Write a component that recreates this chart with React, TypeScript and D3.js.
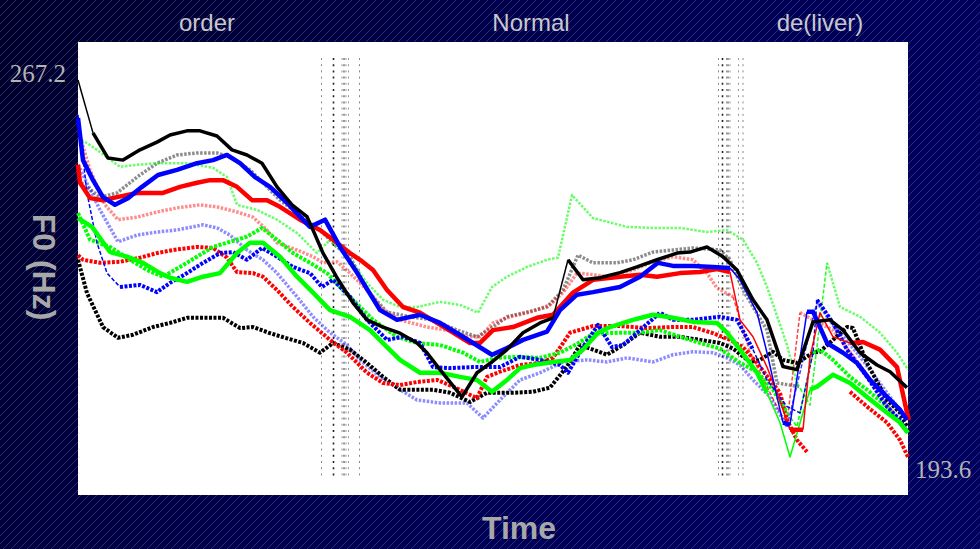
import React from "react";
import * as d3 from "d3";

// F0 contours for "order Normal de(liver)", time in ms, F0 in Hz
type Pt = [number, number] | null;

const F0_TOP = 267.2;
const F0_BOTTOM = 193.6;
const T_END = 1660;

const words = [
  { label: "order", t: 258 },
  { label: "Normal", t: 906 },
  { label: "de(liver)", t: 1484 },
];

// word boundary markers (ms)
const boundaries1 = [487, 511, 528, 532, 536, 541, 563];
const boundaries2 = [1281, 1289, 1297, 1300, 1304, 1321, 1330];

const blackSolid: Pt[] = [
  [0, 267.2], [30, 256.9], [60, 252.0], [90, 251.6], [124, 253.6], [158, 255.1], [184, 256.5],
  [218, 257.3], [244, 257.3], [278, 256.3], [308, 253.6], [338, 252.6], [368, 251.0], [398, 246.4],
  [428, 242.9], [458, 240.6], [470, 238.0], [490, 233.5], [518, 228.7], [550, 223.8], [578, 220.5],
  [610, 219.1], [644, 217.9], [678, 216.0], [698, 214.1], [724, 210.8], [768, 205.5], [798, 210.2],
  [828, 212.3], [858, 214.7], [890, 218.0], [924, 219.9], [950, 220.9], [980, 232.2], [1010, 228.3],
  [1044, 228.7], [1084, 229.7], [1118, 230.8], [1158, 232.2], [1198, 233.5], [1224, 233.7],
  [1258, 234.7], [1290, 232.8], [1318, 230.2], [1350, 224.4], [1378, 220.5], [1410, 211.4],
  [1438, 210.8], [1470, 220.1], [1504, 220.5], [1530, 218.5], [1564, 214.1], [1598, 211.7],
  [1624, 210.4], [1658, 207.3],
];

const blackDotted: Pt[] = [
  [0, 232.2], [18, 225.7], [50, 219.1], [80, 217.0], [110, 217.6], [150, 219.1], [184, 219.9],
  [218, 220.9], [250, 220.9], [290, 220.9], [324, 218.9], [350, 219.1], [384, 217.9], [418, 216.9],
  [450, 216.0], [484, 214.1], [510, 216.0], [544, 214.7], [578, 212.1], [610, 209.4], [644, 206.9],
  [678, 206.9], [710, 206.9], [744, 206.3], [784, 204.5], [818, 206.3], [870, 206.3], [910, 206.5],
  [944, 207.3], [978, 211.4], [1004, 215.6], [1030, 214.7], [1058, 213.7], [1090, 215.6],
  [1124, 218.0], [1164, 217.2], [1204, 217.2], [1244, 216.6], [1284, 216.0], [1310, 214.9],
  [1344, 212.3], [1364, 212.7], [1390, 214.3], [1410, 212.7], [1438, 212.1], [1470, 214.1],
  [1484, 214.3], [1538, 219.1], [1550, 218.9], [1578, 212.1], [1618, 204.9], [1644, 202.4],
  [1658, 199.7],
];

const blackFaint: Pt[] = [
  [0, 247.7], [44, 244.4], [78, 245.2], [118, 248.3], [158, 251.0], [198, 252.6], [238, 253.0],
  [278, 253.0], [304, 252.2], [344, 249.7], [370, 247.2], [404, 243.8], [438, 241.3], [464, 239.4],
  [490, 237.4], [518, 234.7], [544, 232.8], [578, 226.3], [618, 222.0], [664, 221.1], [710, 220.5],
  [758, 218.5], [798, 217.2], [830, 219.1], [858, 221.1], [898, 222.0], [938, 223.0], [970, 226.3],
  [1000, 233.1], [1030, 231.6], [1078, 231.6], [1110, 232.2], [1150, 233.7], [1190, 234.1],
  [1230, 234.5], [1284, 234.1], [1304, 232.2], [1330, 226.3], [1378, 218.5], [1398, 208.2],
  [1444, 207.5],
];

const blueSolid: Pt[] = [
  [0, 259.8], [10, 251.6], [30, 247.7], [50, 244.4], [74, 242.9], [100, 244.2], [128, 246.4],
  [160, 248.7], [198, 249.7], [238, 251.0], [270, 251.6], [298, 252.6], [324, 251.0], [354, 248.3],
  [384, 246.4], [418, 243.3], [444, 240.6], [464, 238.6], [494, 240.0], [524, 234.7], [558, 229.7],
  [604, 222.4], [638, 220.5], [684, 221.5], [724, 219.9], [770, 217.2], [828, 213.7], [858, 215.0],
  [890, 216.6], [938, 218.2], [964, 222.4], [998, 225.4], [1030, 225.9], [1084, 226.9],
  [1124, 228.9], [1160, 231.6], [1190, 231.0], [1230, 231.0], [1270, 230.8], [1304, 230.6],
  [1324, 228.3], [1358, 221.9], [1378, 214.1], [1398, 205.5], [1410, 200.5], [1424, 200.1],
  [1458, 222.1], [1470, 222.1], [1498, 216.0], [1530, 214.1], [1558, 212.1], [1584, 208.8],
  [1618, 205.5], [1644, 203.0], [1658, 201.0],
];

const blueDotted: Pt[] = [
  [0, 260.4], [18, 245.2], [38, 235.5], [58, 229.6], [84, 226.9], [124, 227.3], [158, 225.9],
  [184, 227.7], [218, 229.6], [250, 231.6], [284, 233.5], [310, 233.7], [338, 232.2], [368, 234.5],
  [398, 232.8], [430, 230.8], [464, 229.6], [488, 226.9], [510, 228.3], [544, 225.0], [578, 220.5],
  [618, 216.6], [650, 217.2], [684, 216.0], [710, 211.3], [744, 211.1], [790, 211.3], [844, 211.3],
  [884, 213.3], [924, 212.7], [964, 211.7], [980, 210.2], [1010, 215.2], [1040, 219.5],
  [1068, 215.2], [1090, 215.6], [1124, 218.5], [1164, 221.9], [1190, 220.5], [1230, 220.5],
  [1284, 221.1], [1318, 220.5], [1350, 214.7], [1378, 208.8], [1418, 203.6], [1444, 202.4],
  [1470, 214.1], [1478, 224.4], [1510, 219.9], [1538, 214.7], [1578, 209.4], [1618, 203.6],
  [1644, 201.0], [1660, 198.5],
];

const blueFaint: Pt[] = [
  [0, 250.7], [44, 241.9], [80, 235.7], [118, 237.0], [158, 237.6], [198, 238.0], [250, 239.0],
  [278, 238.4], [304, 237.0], [338, 234.1], [370, 232.2], [398, 229.6], [438, 225.0], [470, 221.1],
  [504, 218.0], [538, 215.6], [564, 212.7], [604, 209.4], [644, 206.9], [678, 204.9], [724, 204.3],
  [778, 204.3], [810, 201.4], [844, 204.9], [884, 208.8], [924, 210.2], [970, 212.3], [1018, 212.7],
  [1058, 212.3], [1098, 213.1], [1150, 212.3], [1190, 213.7], [1230, 214.3], [1270, 214.1],
  [1298, 213.1], [1324, 211.7], [1350, 208.8], [1384, 205.5], [1418, 199.7], [1478, 224.0],
  [1510, 219.5], [1558, 214.1], [1618, 206.3], [1658, 201.0],
];

const redSolid: Pt[] = [
  [0, 250.7], [4, 247.2], [24, 244.2], [50, 243.8], [78, 244.4], [118, 245.2], [170, 245.2],
  [204, 246.4], [238, 247.2], [264, 247.7], [290, 247.7], [318, 246.4], [348, 243.8], [378, 243.8],
  [404, 242.5], [444, 240.0], [484, 238.0], [510, 236.1], [544, 233.5], [564, 232.2], [590, 230.2],
  [618, 226.3], [650, 223.0], [684, 221.9], [718, 219.9], [750, 218.0], [784, 216.0], [804, 216.0],
  [830, 218.5], [870, 219.1], [918, 220.9], [950, 221.5], [990, 225.8], [1030, 228.3], [1084, 228.9],
  [1124, 229.3], [1158, 228.9], [1204, 229.6], [1244, 229.8], [1278, 230.4], [1304, 229.8],
  [1324, 220.5], [1350, 217.2], [1378, 211.3], [1398, 206.3], [1424, 199.1], [1450, 199.1],
  [1464, 213.3], [1484, 221.9], [1510, 217.2], [1544, 216.0], [1570, 216.2], [1604, 214.7],
  [1638, 211.3], [1658, 202.4], [1662, 201.0],
];

const redDotted: Pt[] = [
  [0, 233.1], [10, 232.2], [44, 231.6], [84, 231.8], [124, 232.6], [158, 233.5], [190, 234.1],
  [238, 234.7], [270, 234.5], [298, 232.6], [318, 229.8], [350, 229.6], [370, 228.9], [398, 226.3],
  [430, 223.0], [464, 219.9], [504, 216.6], [538, 214.1], [578, 210.2], [610, 208.2], [644, 207.8],
  [678, 208.4], [718, 208.8], [750, 207.5], [784, 205.9], [798, 205.3], [818, 209.4], [844, 210.4],
  [884, 211.7], [924, 212.1], [950, 213.1], [984, 218.0], [1030, 219.3], [1084, 219.3],
  [1138, 218.9], [1190, 219.1], [1230, 219.1], [1270, 217.9], [1304, 216.6], [1330, 215.2],
  [1358, 212.1], [1384, 208.8], [1404, 206.3], [1418, 201.0], [1438, 197.1], [1458, 194.8], null,
  [1544, 206.5], [1578, 203.6], [1618, 200.5], [1644, 197.1], [1660, 193.8],
];

const redFaint: Pt[] = [
  [0, 257.5], [24, 249.7], [54, 242.9], [80, 240.0], [118, 240.5], [158, 241.5], [198, 242.3],
  [244, 242.9], [278, 242.5], [318, 241.5], [350, 240.5], [378, 238.0], [398, 235.5], [438, 234.1],
  [470, 232.8], [490, 231.6], [518, 231.8], [544, 229.6], [578, 226.3], [610, 222.4], [644, 220.5],
  [698, 219.1], [738, 218.5], [778, 217.2], [804, 217.2], [830, 219.9], [864, 221.1], [904, 222.0],
  [944, 223.4], [970, 225.8], [998, 229.6], [1030, 229.3], [1058, 228.9], [1110, 230.2],
  [1150, 231.8], [1190, 232.8], [1230, 232.2], [1258, 229.6], [1278, 226.7], [1310, 225.0],
  [1344, 214.1], [1378, 207.5], [1404, 202.4], [1418, 200.5], [1444, 221.9], [1470, 220.5],
  [1510, 218.5], [1564, 211.7], [1618, 203.9], [1658, 198.5],
];

const greenSolid: Pt[] = [
  [0, 240.3], [28, 238.6], [64, 233.7], [98, 232.8], [130, 231.6], [164, 229.6], [184, 228.7],
  [218, 227.9], [250, 228.9], [284, 229.6], [318, 233.5], [344, 235.5], [370, 235.5], [404, 232.8],
  [438, 228.9], [470, 225.8], [504, 222.4], [544, 221.1], [584, 218.5], [618, 215.2], [644, 212.7],
  [684, 210.2], [724, 210.2], [764, 209.4], [798, 208.8], [828, 206.5], [858, 208.8], [884, 211.1],
  [910, 211.7], [950, 212.3], [984, 212.7], [1010, 214.7], [1040, 218.0], [1064, 219.1],
  [1110, 220.5], [1150, 221.5], [1190, 220.9], [1230, 220.1], [1278, 219.9], [1298, 218.0],
  [1324, 214.7], [1358, 210.2], [1378, 206.3], [1404, 200.5], [1424, 193.8], [1450, 202.4],
  [1464, 206.9], [1478, 207.5], [1510, 209.8], [1544, 208.2], [1578, 205.5], [1618, 202.4],
  [1644, 200.5], [1660, 198.5],
];

const greenDotted: Pt[] = [
  [0, 241.3], [24, 236.1], [64, 234.7], [104, 232.2], [138, 230.2], [170, 228.9], [204, 230.8],
  [238, 232.8], [270, 234.7], [304, 235.7], [338, 236.7], [368, 238.4], [398, 236.1], [430, 233.5],
  [464, 231.6], [498, 229.6], [530, 226.3], [550, 224.4], [590, 220.5], [638, 217.2], [678, 216.0],
  [724, 215.6], [770, 214.1], [804, 212.3], [838, 213.1], [878, 213.3], [924, 213.1], [964, 214.1],
  [998, 215.8], [1030, 217.8], [1084, 218.0], [1124, 218.0], [1164, 218.5], [1204, 217.2],
  [1244, 216.0], [1284, 214.9], [1324, 212.1], [1358, 210.4], [1390, 206.9], [1418, 202.4],
  [1438, 199.7], [1470, 214.1], [1484, 214.7], [1510, 212.7], [1544, 209.4], [1578, 206.9],
  [1618, 203.6], [1650, 199.7], [1660, 198.5],
];

const greenFaint: Pt[] = [
  [0, 255.9], [18, 254.9], [38, 253.6], [84, 250.3], [118, 250.7], [158, 251.0], [218, 251.0],
  [270, 250.1], [298, 248.3], [318, 242.9], [358, 241.9], [398, 240.0], [438, 237.4], [478, 233.5],
  [504, 236.1], [548, 231.8], [578, 227.7], [610, 224.4], [644, 223.0], [678, 223.0], [724, 224.0],
  [764, 223.4], [800, 221.9], [828, 226.9], [858, 228.9], [898, 230.8], [938, 232.2], [960, 232.6],
  [988, 244.8], [1030, 240.3], [1098, 238.6], [1150, 238.4], [1204, 238.4], [1258, 237.6],
  [1298, 238.0], [1330, 236.1], [1358, 231.6], [1378, 226.9], [1418, 215.6], [1438, 208.2],
  [1464, 203.9], [1498, 231.6], [1524, 223.0], [1564, 221.1], [1604, 218.0], [1638, 214.1],
  [1660, 210.8],
];

// drawing styles; "thin" lists time ranges (ms) drawn as thin connectors
const series = [
  { data: blackFaint, color: "#000000", width: 3.5, dash: "2.5,1.5", opacity: 0.45, thin: [] as number[][] },
  { data: redFaint, color: "#ff0000", width: 3.5, dash: "2.5,1.5", opacity: 0.45, thin: [[1310, 1444]] },
  { data: blueFaint, color: "#0000ff", width: 3.5, dash: "2.5,1.5", opacity: 0.45, thin: [[1418, 1478]] },
  { data: greenFaint, color: "#00ff00", width: 2.5, dash: "2.5,1.5", opacity: 0.6, thin: [[1438, 1498]] },
  { data: blackDotted, color: "#000000", width: 4, dash: "3,1.5", opacity: 1, thin: [] as number[][] },
  { data: redDotted, color: "#ff0000", width: 4, dash: "3,1.5", opacity: 1, thin: [] as number[][] },
  { data: greenDotted, color: "#00ff00", width: 4, dash: "3,1.5", opacity: 1, thin: [[1418, 1470]] },
  { data: blueDotted, color: "#0000ff", width: 4, dash: "3,1.5", opacity: 1, thin: [[0, 84], [1350, 1478]] },
  { data: greenSolid, color: "#00ff00", width: 4.5, dash: null, opacity: 1, thin: [[1378, 1464]] },
  { data: redSolid, color: "#ff0000", width: 4.5, dash: null, opacity: 1, thin: [[1304, 1424], [1450, 1544]] },
  { data: blueSolid, color: "#0000ff", width: 4.5, dash: null, opacity: 1, thin: [[1304, 1410], [1424, 1458]] },
  { data: blackSolid, color: "#000000", width: 3.5, dash: null, opacity: 1, thin: [[0, 30], [950, 980]] },
];

const W = 980;
const H = 549;
const plot = { left: 78, top: 42, right: 908, bottom: 495 };

function splitRuns(data: Pt[], thin: number[][]) {
  const runs: { thin: boolean; pts: [number, number][] }[] = [];
  let cur: { thin: boolean; pts: [number, number][] } | null = null;
  for (let i = 0; i < data.length - 1; i++) {
    const a = data[i];
    const b = data[i + 1];
    if (!a || !b) {
      cur = null;
      continue;
    }
    const mid = (a[0] + b[0]) / 2;
    const isThin = thin.some(([s, e]) => mid >= s && mid <= e);
    if (cur && cur.thin === isThin) cur.pts.push(b);
    else {
      cur = { thin: isThin, pts: [a, b] };
      runs.push(cur);
    }
  }
  return runs;
}

export default function App() {
  const x = d3.scaleLinear().domain([0, T_END]).range([plot.left, plot.left + T_END / 2]);
  const y = d3.scaleLinear().domain([F0_BOTTOM, F0_TOP]).range([458, 80]);
  const line = d3
    .line<[number, number]>()
    .x((d) => x(d[0]))
    .y((d) => y(d[1]));

  const markerStyles = [
    { color: "#888", w: 1 },
    { color: "#222", w: 1.6 },
    { color: "#999", w: 1 },
    { color: "#555", w: 1.2 },
    { color: "#999", w: 1 },
    { color: "#999", w: 1 },
    { color: "#888", w: 1 },
  ];

  const sans = "'Liberation Sans', Arial, sans-serif";
  const serif = "'Liberation Serif', 'Times New Roman', serif";

  return (
    <div style={{ position: "fixed", left: 0, top: 0 }}>
      <svg width={W} height={H} style={{ display: "block" }}>
        <defs>
          <linearGradient id="bg" x1="0" y1="0" x2="1" y2="0.3">
            <stop offset="0%" stopColor="#00002a" />
            <stop offset="55%" stopColor="#000050" />
            <stop offset="100%" stopColor="#00005e" />
          </linearGradient>
          <pattern id="stripes" patternUnits="userSpaceOnUse" width={8} height={8}>
            <line x1={0} y1={8} x2={8} y2={0} stroke="#7078b0" strokeWidth={0.7} opacity={0.55} />
            <line x1={-1} y1={1} x2={1} y2={-1} stroke="#7078b0" strokeWidth={0.7} opacity={0.55} />
            <line x1={7} y1={9} x2={9} y2={7} stroke="#7078b0" strokeWidth={0.7} opacity={0.55} />
          </pattern>
        </defs>
        <rect x={0} y={0} width={W} height={H} fill="url(#bg)" />
        <rect x={0} y={0} width={W} height={H} fill="url(#stripes)" />

        {words.map((w) => (
          <text key={w.label} x={x(w.t)} y={31} textAnchor="middle" fontFamily={sans} fontSize={24} fill="#c8c8cc">
            {w.label}
          </text>
        ))}

        <rect x={plot.left} y={plot.top} width={plot.right - plot.left} height={plot.bottom - plot.top} fill="#ffffff" />

        {[boundaries1, boundaries2].map((group, gi) =>
          group.map((t, i) => (
            <line
              key={`b${gi}-${i}`}
              x1={x(t)}
              x2={x(t)}
              y1={58}
              y2={478}
              stroke={markerStyles[i].color}
              strokeWidth={markerStyles[i].w}
              strokeDasharray="2,4.2"
            />
          ))
        )}

        {series.map((s, si) =>
          splitRuns(s.data, s.thin).map((run, ri) => (
            <path
              key={`s${si}-${ri}`}
              d={line(run.pts) || ""}
              fill="none"
              stroke={s.color}
              strokeOpacity={run.thin ? Math.min(1, s.opacity + 0.3) : s.opacity}
              strokeWidth={run.thin ? 1.5 : s.width}
              strokeDasharray={run.thin ? (s.dash ? "4,2" : undefined) : s.dash || undefined}
              strokeLinejoin="round"
            />
          ))
        )}

        <text x={66} y={82} textAnchor="end" fontFamily={serif} fontSize={25} fill="#b4b4b4">
          {F0_TOP.toFixed(1)}
        </text>
        <text x={915} y={478} fontFamily={serif} fontSize={25} fill="#b4b4b4">
          {F0_BOTTOM.toFixed(1)}
        </text>

        <text
          transform="translate(33,267) rotate(90)"
          textAnchor="middle"
          fontFamily={sans}
          fontWeight="bold"
          fontSize={32}
          fill="#a8a8a8"
        >
          F0 (Hz)
        </text>
        <text x={519} y={539} textAnchor="middle" fontFamily={sans} fontWeight="bold" fontSize={32} fill="#a8a8a8">
          Time
        </text>
      </svg>
    </div>
  );
}
